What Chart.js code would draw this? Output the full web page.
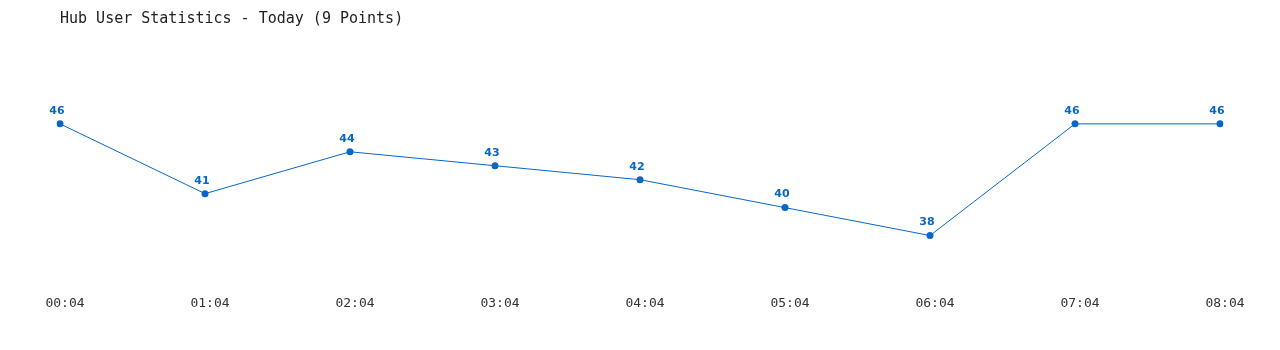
<!DOCTYPE html>
<html>
<head>
<meta charset="utf-8">
<title>Hub User Statistics</title>
<script src="https://cdn.jsdelivr.net/npm/chart.js@4/dist/chart.umd.min.js"></script>
<style>
  html, body { margin: 0; padding: 0; background: #fff; }
  #wrap { width: 1280px; height: 350px; position: relative; }
</style>
</head>
<body>
<div id="wrap"><canvas id="usersChart"></canvas></div>
<script>
// Hub user counts, hourly samples
const times = ["00:04", "01:04", "02:04", "03:04", "04:04", "05:04", "06:04", "07:04", "08:04"];
const users = [46, 41, 44, 43, 42, 40, 38, 46, 46];
const titleText = "Hub User Statistics - Today (9 Points)";

const blue = '#0866c8';

// Draws the value above each point
const valueLabels = {
  id: 'valueLabels',
  afterDatasetsDraw(chart) {
    const ctx = chart.ctx;
    const meta = chart.getDatasetMeta(0);
    ctx.save();
    ctx.fillStyle = blue;
    ctx.font = 'bold 11px "DejaVu Sans", Verdana, sans-serif';
    ctx.textAlign = 'center';
    ctx.textBaseline = 'middle';
    meta.data.forEach((pt, i) => {
      ctx.fillText(String(users[i]), pt.x - 3, pt.y - 13);
    });
    ctx.restore();
  }
};

new Chart(document.getElementById('usersChart'), {
  type: 'line',
  data: {
    labels: times,
    datasets: [{
      label: 'Users',
      data: users,
      borderColor: blue,
      backgroundColor: blue,
      borderWidth: 1,
      pointRadius: 3.5,
      pointHoverRadius: 3.5,
      pointBackgroundColor: blue,
      pointBorderWidth: 0,
      tension: 0,
      fill: false
    }]
  },
  options: {
    responsive: true,
    maintainAspectRatio: false,
    animation: false,
    layout: { padding: { left: 60, right: 60, top: 0, bottom: 36 } },
    plugins: {
      legend: { display: false },
      tooltip: { enabled: false },
      title: {
        display: true,
        text: titleText,
        align: 'start',
        color: '#222',
        font: { family: '"DejaVu Sans Mono", "Liberation Mono", monospace', size: 15, weight: 'normal' },
        padding: { top: 10, bottom: 40 }
      }
    },
    scales: {
      x: {
        offset: false,
        grid: { display: false },
        border: { display: false },
        ticks: {
          color: '#333',
          labelOffset: 5,
          padding: 3,
          maxRotation: 0,
          font: { family: '"DejaVu Sans Mono", "Liberation Mono", monospace', size: 13 }
        }
      },
      y: {
        display: false,
        min: 34.5,
        max: 50
      }
    }
  },
  plugins: [valueLabels]
});
</script>
</body>
</html>
